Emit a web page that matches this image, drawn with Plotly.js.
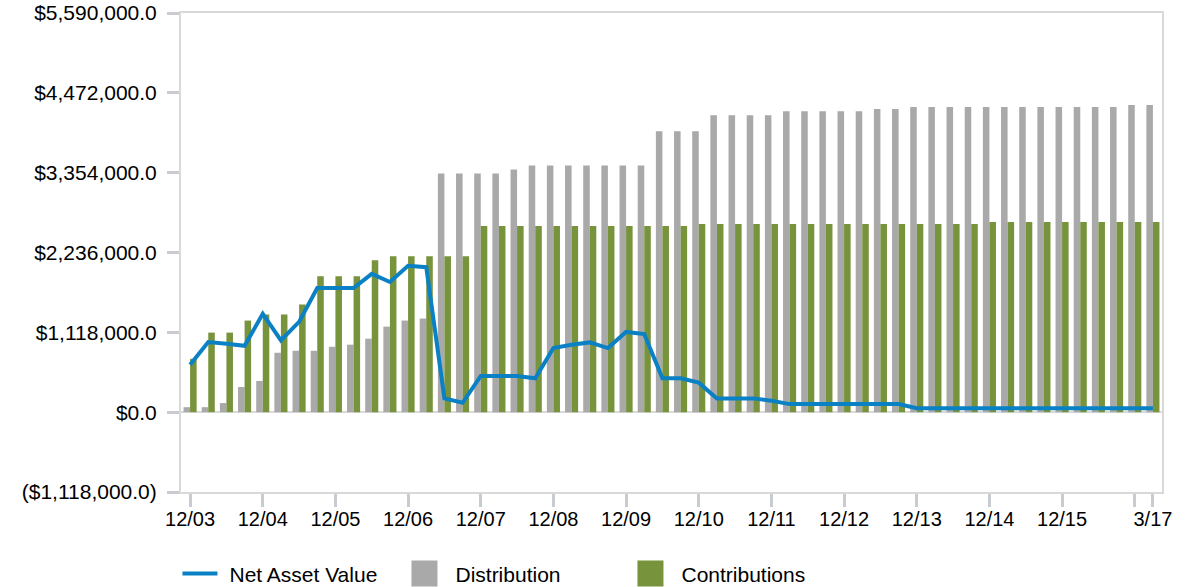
<!DOCTYPE html>
<html>
<head>
<meta charset="utf-8">
<script src="https://cdn.plot.ly/plotly-3.0.1.min.js"></script>
<style>
html,body{margin:0;padding:0;background:#fff;}
#chart{width:1191px;height:587px;}
</style>
</head>
<body>
<div id="chart"></div>
<script>
const quarters = ["12/03","3/04","6/04","9/04","12/04","3/05","6/05","9/05","12/05","3/06","6/06","9/06","12/06",
  "3/07","6/07","9/07","12/07","3/08","6/08","9/08","12/08","3/09","6/09","9/09","12/09","3/10","6/10","9/10","12/10",
  "3/11","6/11","9/11","12/11","3/12","6/12","9/12","12/12","3/13","6/13","9/13","12/13","3/14","6/14","9/14","12/14",
  "3/15","6/15","9/15","12/15","3/16","6/16","9/16","12/16","3/17"];

const netAssetValue = [663000, 982000, 959000, 930000, 1377000, 1005000, 1264000, 1738000, 1738000, 1738000,
  1936000, 1823000, 2049000, 2030000, 193000, 131000, 508000, 508000, 505000, 475000,
  898000, 945000, 977000, 898000, 1124000, 1095000, 475000, 475000, 413000, 193000,
  193000, 193000, 160000, 113000, 113000, 113000, 113000, 113000, 113000, 113000,
  56000, 56000, 56000, 56000, 56000, 56000, 56000, 56000, 56000, 56000,
  56000, 56000, 56000, 56000];

const distribution = [70000, 70000, 127000, 352000, 437000, 832000, 860000, 860000, 916000, 945000,
  1029000, 1198000, 1283000, 1311000, 3341000, 3341000, 3341000, 3341000, 3398000, 3454000,
  3454000, 3454000, 3454000, 3454000, 3454000, 3454000, 3933000, 3933000, 3933000, 4159000,
  4159000, 4159000, 4159000, 4215000, 4215000, 4215000, 4215000, 4215000, 4244000, 4244000,
  4272000, 4272000, 4272000, 4272000, 4272000, 4272000, 4272000, 4272000, 4272000, 4272000,
  4272000, 4272000, 4300000, 4300000];

const contributions = [747000, 1114000, 1114000, 1283000, 1368000, 1368000, 1508000, 1903000, 1903000, 1903000,
  2129000, 2185000, 2185000, 2185000, 2185000, 2185000, 2608000, 2608000, 2608000, 2608000,
  2608000, 2608000, 2608000, 2608000, 2608000, 2608000, 2608000, 2608000, 2636000, 2636000,
  2636000, 2636000, 2636000, 2636000, 2636000, 2636000, 2636000, 2636000, 2636000, 2636000,
  2636000, 2636000, 2636000, 2636000, 2664000, 2664000, 2664000, 2664000, 2664000, 2664000,
  2664000, 2664000, 2664000, 2664000];

const xTickValues = ["12/03","12/04","12/05","12/06","12/07","12/08","12/09","12/10","12/11","12/12","12/13","12/14","12/15","12/16","3/17"];
const xTickLabels = ["12/03","12/04","12/05","12/06","12/07","12/08","12/09","12/10","12/11","12/12","12/13","12/14","12/15","","3/17"];

const yTickValues = [-1118000, 0, 1118000, 2236000, 3354000, 4472000, 5590000];
const yTickLabels = ["($1,118,000.0)","$0.0","$1,118,000.0","$2,236,000.0","$3,354,000.0","$4,472,000.0","$5,590,000.0"];

const FONT = '"Liberation Sans", Arial, sans-serif';
const axisLine = '#d9d9d9';
const tickCol = '#c8ccd1';

const traces = [
  {
    type: 'scatter', mode: 'lines', name: 'Net Asset Value',
    x: quarters, y: netAssetValue,
    line: {color: '#0a81c4', width: 4}
  },
  {
    type: 'bar', name: 'Distribution',
    x: quarters, y: distribution,
    marker: {color: '#a9a9a9'}
  },
  {
    type: 'bar', name: 'Contributions',
    x: quarters, y: contributions,
    marker: {color: '#77933c'}
  }
];

const layout = {
  width: 1191, height: 587,
  margin: {l: 181, r: 29, t: 13, b: 95, pad: 0, autoexpand: false},
  paper_bgcolor: '#fff', plot_bgcolor: '#fff',
  font: {family: FONT, size: 21, color: '#000'},
  barmode: 'group', bargap: 0.28, bargroupgap: 0,
  showlegend: true,
  legend: {
    orientation: 'h', x: -0.0138, xanchor: 'left', y: -0.171, yanchor: 'middle',
    font: {family: FONT, size: 21, color: '#000'},
    itemwidth: 52, entrywidth: 159, entrywidthmode: 'pixels',
    traceorder: 'normal', bgcolor: 'rgba(0,0,0,0)'
  },
  xaxis: {
    type: 'category', range: [-0.5, 53.5],
    tickmode: 'array', tickvals: xTickValues, ticktext: xTickLabels,
    ticks: 'outside', ticklen: 13, tickwidth: 3, tickcolor: tickCol,
    showline: true, linecolor: axisLine, linewidth: 2, mirror: true,
    showgrid: false, zeroline: false,
    tickfont: {family: FONT, size: 20, color: '#000'},
    ticklabelstandoff: -5, fixedrange: true
  },
  yaxis: {
    range: [-1118000, 5590000],
    tickmode: 'array', tickvals: yTickValues, ticktext: yTickLabels,
    ticks: 'outside', ticklen: 12, tickwidth: 3, tickcolor: tickCol,
    showline: true, linecolor: axisLine, linewidth: 2, mirror: true,
    showgrid: false, zeroline: true, zerolinecolor: axisLine, zerolinewidth: 2,
    tickfont: {family: FONT, size: 21, color: '#000'},
    ticklabelstandoff: 6, fixedrange: true
  },
  hovermode: false
};

function restyleLegendSymbols() {
  document.querySelectorAll('#chart .legend .legendpoints path').forEach(function(p){
    var d = p.getAttribute('d') || '';
    if (/^M6,6H-6V-6H6Z$/.test(d)) p.setAttribute('d', 'M13,13H-13V-13H13Z');
  });
  document.querySelectorAll('#chart .legend .legendlines path').forEach(function(p){
    if (p.getAttribute('data-fixed')) return;
    var bb = p.getBBox();
    var c = bb.x + bb.width / 2 + 1.5;
    p.setAttribute('d', 'M' + (c - 17.5) + ',0h35');
    p.setAttribute('data-fixed', '1');
  });
}

Plotly.newPlot('chart', traces, layout, {displayModeBar: false, staticPlot: true}).then(function(gd){
  restyleLegendSymbols();
  gd.on('plotly_afterplot', restyleLegendSymbols);
});
</script>
</body>
</html>
